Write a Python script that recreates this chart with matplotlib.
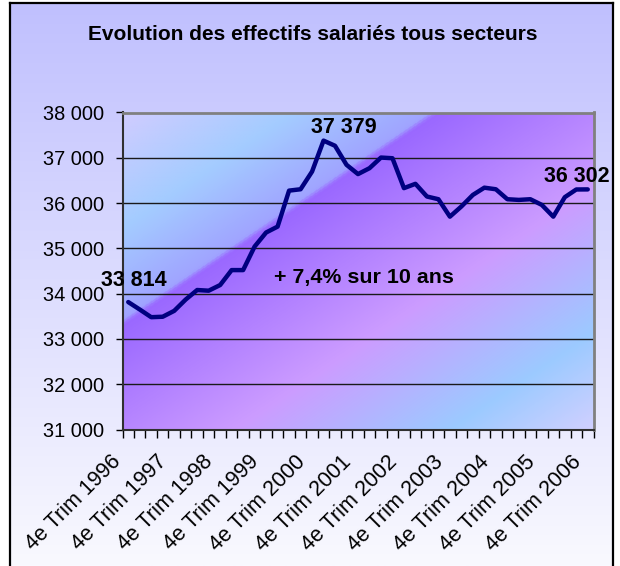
import numpy as np
import matplotlib
matplotlib.use("Agg")
import matplotlib.pyplot as plt
from matplotlib.colors import LinearSegmentedColormap
from matplotlib.ticker import FuncFormatter
from matplotlib.transforms import ScaledTranslation

plt.rcParams['font.family'] = ['Liberation Sans', 'DejaVu Sans']

# ── Données : effectifs salariés trimestriels, 4e trim 1996 → 4e trim 2006 ──
effectifs = [
    33814, 33650, 33480, 33490, 33620, 33870, 34080, 34065, 34190, 34520,
    34520, 35040, 35350, 35480, 36275, 36305, 36695, 37379, 37265, 36845,
    36640, 36770, 37005, 36990, 36330, 36425, 36145, 36085, 35700, 35925,
    36180, 36340, 36305, 36085, 36070, 36085, 35960, 35700, 36130, 36300,
    36302,
]
annees = list(range(1996, 2007))
etiquettes = [f"4e Trim {a}" for a in annees]

# points annotés : (indice, texte, décalage x px, décalage y px)
annotations = [
    (0, "33 814", 6, 22),
    (17, "37 379", 20, 13),
    (40, "36 302", -11, 13),
]
y_min, y_max, y_pas = 31000, 38000, 1000

x = np.arange(len(effectifs))

fig = plt.figure(figsize=(6.2, 5.66), dpi=100)

# ── Fond de la figure (dégradé vertical lavande → blanc) ──
bg = fig.add_axes([10 / 620, 0, 603 / 620, 563 / 566], zorder=-5)
fond = LinearSegmentedColormap.from_list("fond", ["#c0c0fe", "#f9f9ff"])
bg.imshow(np.linspace(0, 1, 200).reshape(-1, 1), aspect='auto', cmap=fond,
          extent=[0, 1, 0, 1], origin='upper')
bg.set_xticks([])
bg.set_yticks([])
for cote in ['left', 'top', 'right']:
    bg.spines[cote].set_linewidth(1.6)
    bg.spines[cote].set_color('black')
bg.spines['bottom'].set_visible(False)

# ── Zone de tracé ──
ax = fig.add_axes([122.5 / 620, 1 - 429.5 / 566, 471 / 620, 317 / 566])

zone = LinearSegmentedColormap.from_list("zone", [
    (0.00, "#d0ccff"), (0.18, "#a4ccff"), (0.325, "#a0a4ff"),
    (0.335, "#9a68ff"), (0.62, "#cc9cff"), (0.85, "#9ccaff"),
    (1.00, "#d0d0ff"),
])
gx, gy = np.meshgrid(np.linspace(0, 1, 500), np.linspace(0, 1, 400))
ax.imshow((gx + gy) / 2, cmap=zone, aspect='auto', origin='upper',
          extent=[-0.5, len(effectifs) - 0.5, y_min, y_max], zorder=0,
          interpolation='bilinear')

ax.plot(x, effectifs, color='#000080', linewidth=3.2, solid_joinstyle='round',
        solid_capstyle='round', zorder=3)

ax.set_xlim(-0.5, len(effectifs) - 0.5)
ax.set_ylim(y_min, y_max)

ax.set_yticks(np.arange(y_min, y_max + 1, y_pas))
ax.yaxis.set_major_formatter(FuncFormatter(lambda v, p: f"{v:,.0f}".replace(",", " ")))
ax.yaxis.grid(True, color='#1a1a1a', linewidth=1)
ax.tick_params(axis='y', direction='out', length=5, width=1, pad=8, labelsize=14.4)

ax.set_xticks(x[::4])
ax.set_xticklabels(etiquettes)
ax.set_xticks(np.arange(-0.5, len(effectifs), 1), minor=True)
ax.tick_params(axis='x', which='major', length=0, pad=21, labelsize=15.5)
ax.tick_params(axis='x', which='minor', direction='out', length=6, width=1)
decale = ScaledTranslation(-10 / 100, 0, fig.dpi_scale_trans)
for lbl in ax.get_xticklabels():
    lbl.set_rotation(45)
    lbl.set_rotation_mode('anchor')
    lbl.set_ha('right')
    lbl.set_va('center')
    lbl.set_transform(lbl.get_transform() + decale)

for cote in ['top', 'right']:
    ax.spines[cote].set_color('#808080')
    ax.spines[cote].set_linewidth(2)
ax.spines['left'].set_color('#303030')
ax.spines['bottom'].set_color('#303030')
ax.spines['left'].set_linewidth(1.5)
ax.spines['bottom'].set_linewidth(1.5)

for i, txt, dx, dy in annotations:
    ax.annotate(txt, (x[i], effectifs[i]), xytext=(dx * 0.72, dy * 0.72),
                textcoords='offset points', ha='center', va='center',
                fontsize=15.5, fontweight='bold', zorder=5)

ax.text(0.513, 0.478, "+ 7,4% sur 10 ans", transform=ax.transAxes,
        ha='center', va='center', fontsize=15.4, fontweight='bold', zorder=5)

fig.text(313 / 620, 1 - 34 / 566, "Evolution des effectifs salariés tous secteurs",
         ha='center', va='center', fontsize=15, fontweight='bold')

fig.savefig("out.png", dpi=100)
